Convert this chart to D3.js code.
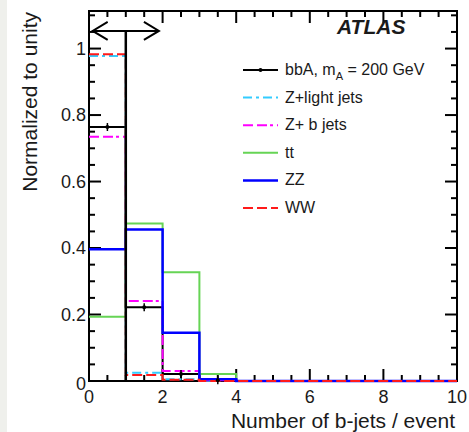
<!DOCTYPE html>
<html>
<head>
<meta charset="utf-8">
<script src="https://cdn.jsdelivr.net/npm/d3@7"></script>
<style>
  body { margin: 0; background: #fff; }
  text { font-family: "Liberation Sans", Arial, Helvetica, sans-serif; fill: #1a1a1a; }
</style>
</head>
<body>
<div id="chart"></div>
<script>
// bin lower edges (number of b-jets) and normalised contents per sample
var binEdges = [0, 1, 2, 3, 4, 5, 6, 7, 8, 9, 10];
var bbA    = [0.764, 0.222, 0.021, 0.002, 0, 0, 0, 0, 0, 0];
var zLight = [0.978, 0.025, 0.005, 0.001, 0, 0, 0, 0, 0, 0];
var zB     = [0.735, 0.241, 0.030, 0.002, 0, 0, 0, 0, 0, 0];
var ttbar  = [0.193, 0.474, 0.327, 0.021, 0, 0, 0, 0, 0, 0];
var zz     = [0.396, 0.456, 0.145, 0.005, 0, 0, 0, 0, 0, 0];
var ww     = [0.983, 0.018, 0.004, 0, 0, 0, 0, 0, 0, 0];

var xTicks = [0, 2, 4, 6, 8, 10];
var yTicks = [0, 0.2, 0.4, 0.6, 0.8, 1];
var cutArrow = {x0: 0.1, x1: 1.9, y: 1.053, cut: 1};

var series = [
  {name: "bbA", values: bbA, color: "#000000", dash: null, width: 2},
  {name: "Z+light jets", values: zLight, color: "#33ccff", dash: "9,4,3,4", width: 2},
  {name: "Z+ b jets", values: zB, color: "#ff00ff", dash: "10,4,10,3,3,4", width: 2},
  {name: "tt", values: ttbar, color: "#66d455", dash: null, width: 2},
  {name: "ZZ", values: zz, color: "#0000ff", dash: null, width: 2.5},
  {name: "WW", values: ww, color: "#ff1a1a", dash: "10,4", width: 2}
];

var W = 469, H = 432;
var margin = {top: 11, right: 12, bottom: 51, left: 89},
    width = W - margin.left - margin.right,
    height = H - margin.top - margin.bottom;

var svg = d3.select("#chart").append("svg")
    .attr("width", W)
    .attr("height", H);

// grey strip on the left edge of the scan
svg.append("rect").attr("x", 0).attr("y", 0).attr("width", 7).attr("height", H).attr("fill", "#eff0ec");

var g = svg.append("g")
    .attr("transform", "translate(" + margin.left + "," + margin.top + ")");

var x = d3.scaleLinear().domain([0, 10]).range([0, width]);
var y = d3.scaleLinear().domain([0, 1.113]).range([height, 0]);

// frame
g.append("rect")
    .attr("width", width).attr("height", height)
    .attr("fill", "none").attr("stroke", "#000").attr("stroke-width", 2);

// ticks on all four sides (ROOT style, pointing inward)
var xMinor = d3.range(0, 10.01, 0.5);
var yMinor = d3.range(0, 1.101, 0.05);
function isMajorX(v) { return Math.abs(v / 2 - Math.round(v / 2)) < 1e-6; }
function isMajorY(v) { return Math.abs(v / 0.2 - Math.round(v / 0.2)) < 1e-6; }

var ticks = g.append("g").attr("stroke", "#000").attr("stroke-width", 2);
xMinor.forEach(function(v) {
  var len = isMajorX(v) ? 12 : 6;
  ticks.append("line").attr("x1", x(v)).attr("x2", x(v)).attr("y1", height).attr("y2", height - len);
  ticks.append("line").attr("x1", x(v)).attr("x2", x(v)).attr("y1", 0).attr("y2", len);
});
yMinor.forEach(function(v) {
  var len = isMajorY(v) ? 12 : 6;
  ticks.append("line").attr("y1", y(v)).attr("y2", y(v)).attr("x1", 0).attr("x2", len);
  ticks.append("line").attr("y1", y(v)).attr("y2", y(v)).attr("x1", width).attr("x2", width - len);
});

// tick labels
g.selectAll(".xlab").data(xTicks).enter().append("text")
    .attr("class", "xlab")
    .attr("x", function(d) { return x(d); })
    .attr("y", height + 22)
    .attr("text-anchor", "middle")
    .style("font-size", "18px")
    .text(function(d) { return d; });

g.selectAll(".ylab").data(yTicks).enter().append("text")
    .attr("class", "ylab")
    .attr("x", -3)
    .attr("y", function(d) { return y(d) + (d === 0 ? 9 : 6); })
    .attr("text-anchor", "end")
    .style("font-size", "18px")
    .text(function(d) { return d; });

// axis titles
svg.append("text")
    .attr("x", 455).attr("y", 428)
    .attr("text-anchor", "end")
    .style("font-size", "21px")
    .text("Number of b-jets / event");

svg.append("text")
    .attr("transform", "translate(37,12) rotate(-90)")
    .attr("text-anchor", "end")
    .style("font-size", "21px")
    .text("Normalized to unity");

// histograms as step lines
var step = d3.line()
    .x(function(d) { return x(d[0]); })
    .y(function(d) { return y(d[1]); })
    .curve(d3.curveStepAfter);

series.forEach(function(s) {
  var pts = s.values.map(function(v, i) { return [binEdges[i], v]; });
  pts.push([10, s.values[s.values.length - 1]]);
  g.append("path")
      .datum(pts)
      .attr("d", step)
      .attr("fill", "none")
      .attr("stroke", s.color)
      .attr("stroke-width", s.width)
      .attr("stroke-dasharray", s.dash);
});

// signal markers with small error bars at bin centres
var sig = bbA.map(function(v, i) { return {c: binEdges[i] + 0.5, v: v}; }).filter(function(d) { return d.v > 0; });
g.selectAll(".err").data(sig).enter().append("line")
    .attr("x1", function(d) { return x(d.c); }).attr("x2", function(d) { return x(d.c); })
    .attr("y1", function(d) { return y(d.v) - 4; }).attr("y2", function(d) { return y(d.v) + 4; })
    .attr("stroke", "#000").attr("stroke-width", 1.5);
g.selectAll(".dot").data(sig).enter().append("circle")
    .attr("cx", function(d) { return x(d.c); })
    .attr("cy", function(d) { return y(d.v); })
    .attr("r", 2).attr("fill", "#000");

// cut line and double arrow
g.append("line")
    .attr("x1", x(cutArrow.cut)).attr("x2", x(cutArrow.cut))
    .attr("y1", y(cutArrow.y)).attr("y2", y(0))
    .attr("stroke", "#000").attr("stroke-width", 2.5);
var ay = y(cutArrow.y), ax0 = x(cutArrow.x0), ax1 = x(cutArrow.x1);
g.append("path")
    .attr("d", "M" + ax0 + "," + ay + "L" + ax1 + "," + ay +
               "M" + (ax0 + 15) + "," + (ay - 9) + "L" + ax0 + "," + ay + "L" + (ax0 + 15) + "," + (ay + 9) +
               "M" + (ax1 - 15) + "," + (ay - 9) + "L" + ax1 + "," + ay + "L" + (ax1 - 15) + "," + (ay + 9))
    .attr("fill", "none").attr("stroke", "#000").attr("stroke-width", 2);

// ATLAS label
svg.append("text")
    .attr("x", 337).attr("y", 34)
    .style("font-size", "21px").style("font-weight", "bold").style("font-style", "italic")
    .text("ATLAS");

// legend
var legend = svg.append("g").attr("transform", "translate(243,70)");
var rowH = 27.6;
series.forEach(function(s, i) {
  var row = legend.append("g").attr("transform", "translate(0," + (i * rowH) + ")");
  row.append("line")
      .attr("x1", 0).attr("x2", 35).attr("y1", 0).attr("y2", 0)
      .attr("stroke", s.color).attr("stroke-width", s.width)
      .attr("stroke-dasharray", s.dash);
  if (i === 0) {
    row.append("circle").attr("cx", 17.5).attr("cy", 0).attr("r", 2).attr("fill", "#000");
  }
  var t = row.append("text").attr("x", 42).attr("y", 5).style("font-size", "16px");
  if (i === 0) {
    t.append("tspan").text("bbA, m");
    t.append("tspan").attr("dy", 5).style("font-size", "11px").text("A");
    t.append("tspan").attr("dy", -5).text(" = 200 GeV");
  } else {
    t.text(s.name);
  }
});
</script>
</body>
</html>
